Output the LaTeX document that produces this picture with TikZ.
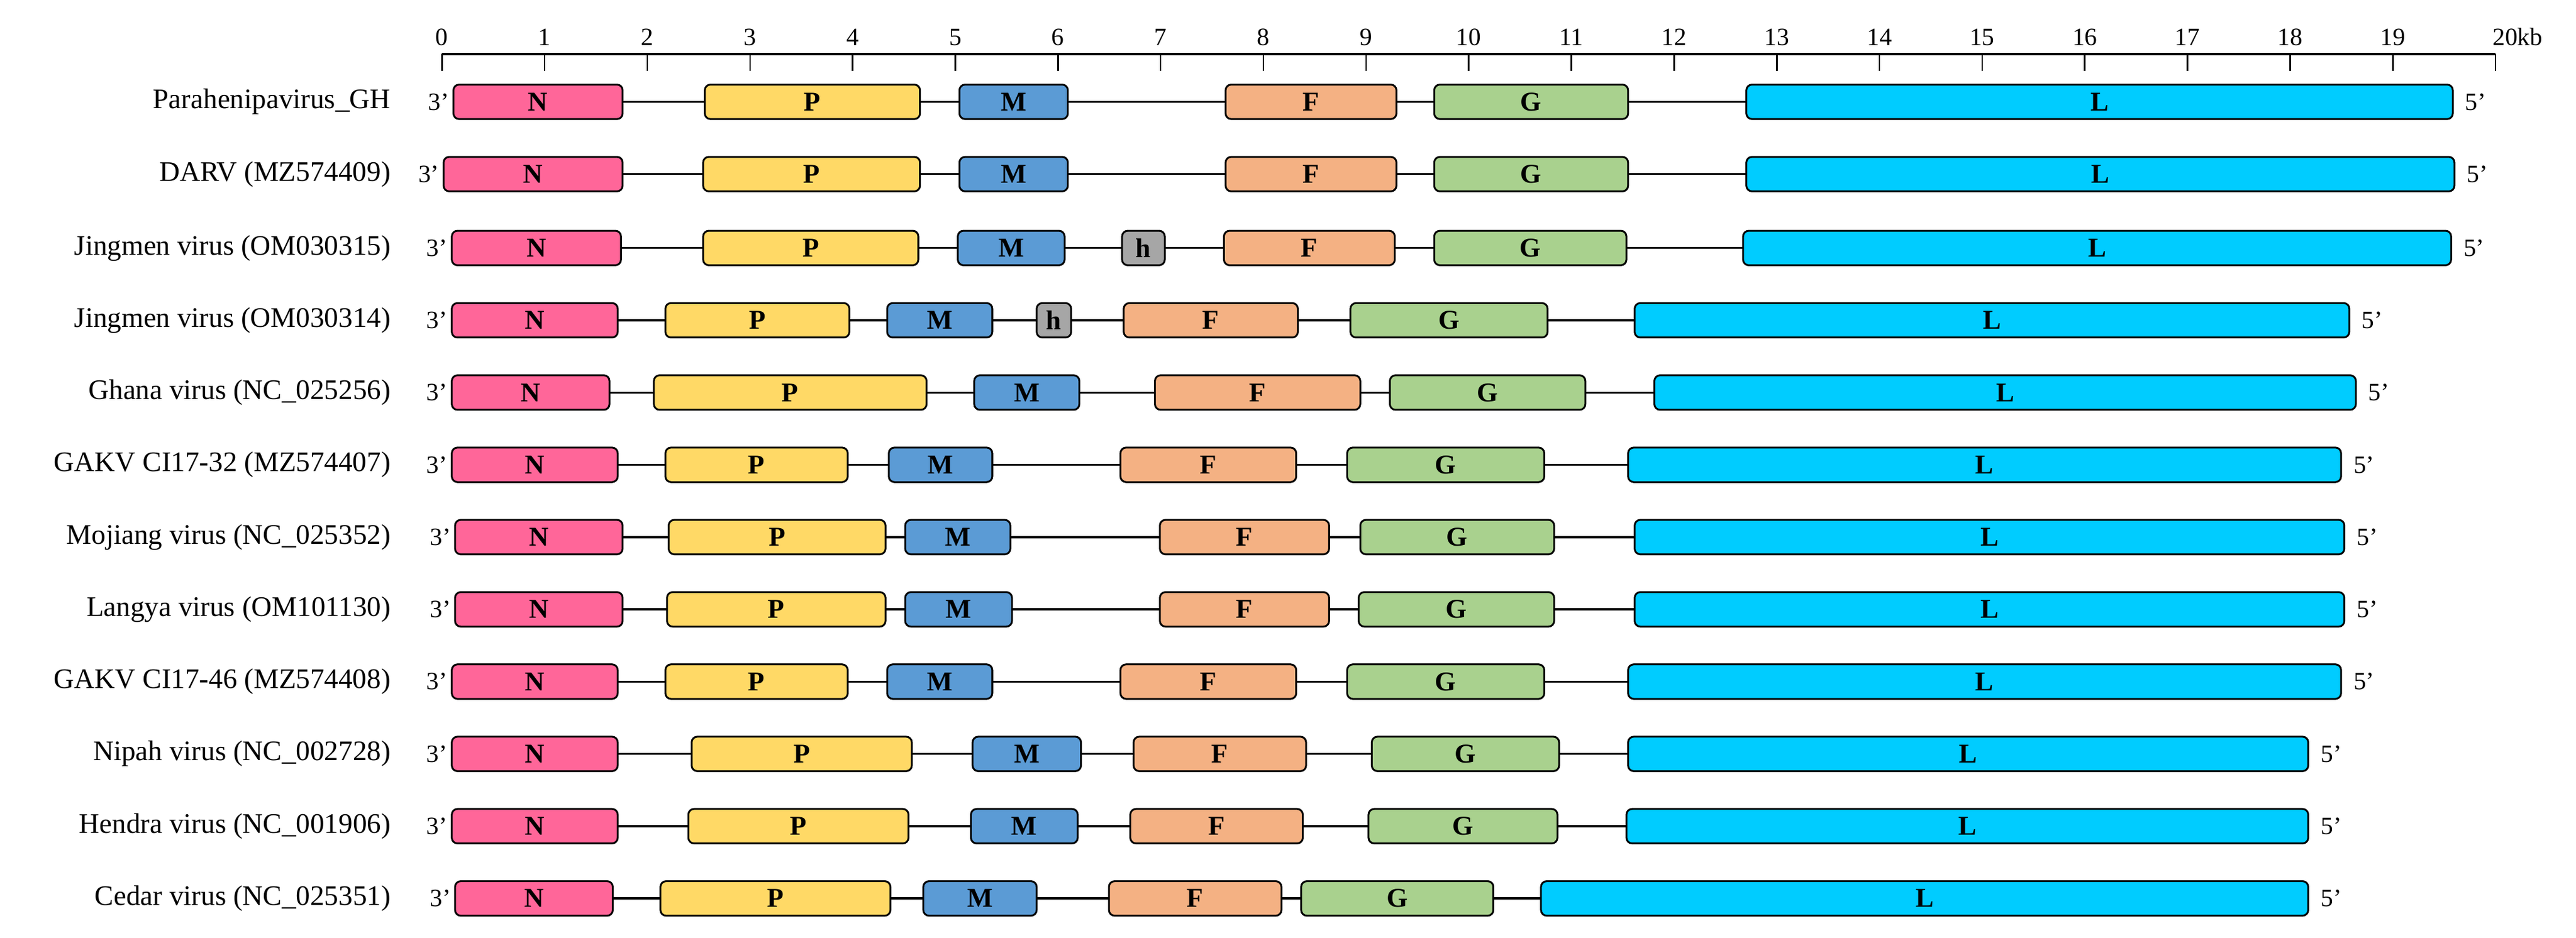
\documentclass[tikz,border=0pt]{standalone}
\usepackage{fontspec}
\setmainfont{Liberation Serif}
\begin{document}
\begin{tikzpicture}[x=0.0255cm,y=-0.0255cm,
  gene/.style={draw=black,line width=0.8pt,rounded corners=2.5pt,minimum height=21*0.0255cm,inner sep=0pt,font=\fontsize{12}{14}\selectfont\bfseries},
  lab/.style={anchor=east,font=\fontsize{12.5}{14}\selectfont,inner sep=0pt},
  endl/.style={font=\fontsize{11}{13}\selectfont,inner sep=1pt},
  tk/.style={font=\fontsize{11}{13}\selectfont,anchor=south,inner sep=0pt}]
\useasboundingbox (0,0) rectangle (1568,571);
\definecolor{cN}{HTML}{FF6699}
\definecolor{cP}{HTML}{FFD966}
\definecolor{cM}{HTML}{5B9BD5}
\definecolor{cF}{HTML}{F4B183}
\definecolor{cG}{HTML}{A9D18E}
\definecolor{cL}{HTML}{00CCFF}
\definecolor{ch}{HTML}{A6A6A6}
% axis
\coordinate (a0) at (269,33);
\coordinate (a20) at (1519,33);
\draw[line width=1pt] (a0) -- (a20);
\foreach \k in {0,...,19}{
  \draw[line width=0.7pt] (269+\k*62.5,33) -- (269+\k*62.5,43);
  \node[tk] at (269+\k*62.5,28) {\k};
}
\draw[line width=0.7pt] (1519,33) -- (1519,43);
\node[tk,anchor=south west,xshift=-2*0.0255cm] at (1519,28) {20kb};
% rows: index/y/label/gene list
\foreach \r/\y/\lab/\genes in {
 1/62/{Parahenipavirus\_GH}/{N/276/379,P/429/560,M/584/650,F/746/850,G/873/991,L/1063/1493},
 2/106/{DARV (MZ574409)}/{N/270/379,P/428/560,M/584/650,F/746/850,G/873/991,L/1063/1494},
 3/151/{Jingmen virus (OM030315)}/{N/275/378,P/428/559,M/583/648,h/683/709,F/745/849,G/873/990,L/1061/1492},
 4/195/{Jingmen virus (OM030314)}/{N/275/376,P/405/517,M/540/604,h/631/652,F/684/790,G/822/942,L/995/1430},
 5/239/{Ghana virus (NC\_025256)}/{N/275/371,P/398/564,M/593/657,F/703/828,G/846/965,L/1007/1434},
 6/283/{GAKV CI17-32 (MZ574407)}/{N/275/376,P/405/516,M/541/604,F/682/789,G/820/940,L/991/1425},
 7/327/{Mojiang virus (NC\_025352)}/{N/277/379,P/407/539,M/551/615,F/706/809,G/828/946,L/995/1427},
 8/371/{Langya virus (OM101130)}/{N/277/379,P/406/539,M/551/616,F/706/809,G/827/946,L/995/1427},
 9/415/{GAKV CI17-46 (MZ574408)}/{N/275/376,P/405/516,M/540/604,F/682/789,G/820/940,L/991/1425},
 10/459/{Nipah virus (NC\_002728)}/{N/275/376,P/421/555,M/592/658,F/690/795,G/835/949,L/991/1405},
 11/503/{Hendra virus (NC\_001906)}/{N/275/376,P/419/553,M/591/656,F/688/793,G/833/948,L/990/1405},
 12/547/{Cedar virus (NC\_025351)}/{N/277/373,P/402/542,M/562/631,F/675/780,G/792/909,L/938/1405}}{
  \node[lab] (lab\r) at (238,\y) {\lab};
  \foreach \g/\s/\e [count=\i] in \genes {
    \ifnum\i=1 \coordinate (st\r) at (\s,\y); \fi
    \coordinate (en\r) at (\e,\y);
  }
  \node[endl,anchor=east] (t\r) at ([xshift=-1*0.0255cm]st\r) {3’};
  \node[endl,anchor=west] (f\r) at ([xshift=6*0.0255cm]en\r) {5’};
  \draw[line width=0.9pt] (st\r) -- (en\r);
  \foreach \g/\s/\e in \genes {
    \node[gene,fill=c\g,minimum width={(\e-\s)*0.0255cm}] (g\r\g) at ({(\s+\e)/2},\y) {\g};
  }
}
\end{tikzpicture}
\end{document}
